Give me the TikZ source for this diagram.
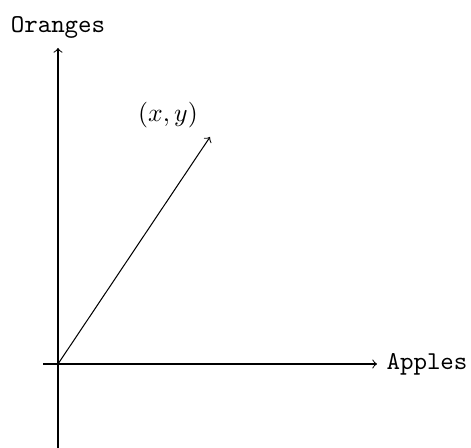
\documentclass[tikz,border=0pt]{standalone}
\begin{document}
\begin{tikzpicture}[x=0.389pt,y=-0.389pt, ax/.style={->}, lbl/.style={font=\ttfamily}]
\useasboundingbox (0,0) rectangle (471,448);
\coordinate (O) at (58,364);
\coordinate (xl) at (43,364);
\coordinate (yb) at (58,448);
\node[lbl, anchor=west, inner sep=0pt] (apples) at (386,364) {Apples};
\node[lbl, inner sep=0pt] (oranges) at (58,27) {Oranges};
\coordinate (xe) at (377,364);
\coordinate (ye) at (58,48);
\coordinate (v) at (210,137);
\node (xy) at (168,115) {$(x,y)$};
\draw[ax] (xl) -- (xe);
\draw[ax] (yb) -- (ye);
\draw[ax] (O) -- (v);
\end{tikzpicture}
\end{document}
